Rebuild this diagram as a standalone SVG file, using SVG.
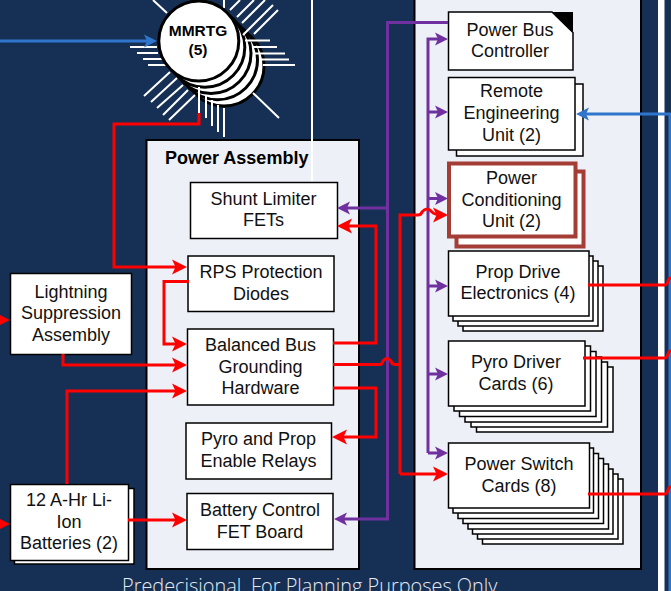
<svg xmlns="http://www.w3.org/2000/svg" width="671" height="591" viewBox="0 0 671 591">
<defs>
<marker id="ar" markerUnits="userSpaceOnUse" markerWidth="16" markerHeight="16" refX="11" refY="8" orient="auto"><path d="M0 0.500L15 8L0 15.500L3.500 8Z" fill="#f00"/></marker>
<marker id="ap" markerUnits="userSpaceOnUse" markerWidth="14" markerHeight="14" refX="9" refY="7" orient="auto"><path d="M0 0.500L13 7L0 13.500L3 7Z" fill="#7030a0"/></marker>
<marker id="ab" markerUnits="userSpaceOnUse" markerWidth="14" markerHeight="14" refX="9" refY="7" orient="auto"><path d="M0 0.500L13 7L0 13.500L3 7Z" fill="#2f75cc"/></marker>
</defs>
<style>
.b{fill:#fff;stroke:#000;stroke-width:1.5}
.p{fill:#edf0f6;stroke:#000;stroke-width:2}
.t{font-family:"Liberation Sans",Arial,sans-serif;font-size:18px;fill:#111;text-anchor:middle}
.h{font-family:"Liberation Sans",Arial,sans-serif;font-weight:bold;fill:#000}
.r{fill:none;stroke:#f00;stroke-width:3}
.v{fill:none;stroke:#7030a0;stroke-width:3}
.u{fill:none;stroke:#2f75cc;stroke-width:3}
.w{fill:none;stroke:#fff;stroke-width:2}
.c{fill:#fff;stroke:#000;stroke-width:3}
.m{fill:#fff;stroke:#a33d35;stroke-width:4}
</style>
<rect width="671" height="591" fill="#163055"/>
<rect x="658" y="0" width="6.500" height="591" fill="#fff"/>
<rect id="power-assembly-panel" class="p" x="146.500" y="140" width="212.500" height="429"/>
<rect id="right-panel" class="p" x="414.500" y="-5" width="226.500" height="574"/>
<text class="h" x="165" y="163.500" font-size="18">Power Assembly</text>
<g id="mmrtg">
<circle class="c" cx="224" cy="66" r="40"/><circle class="c" cx="217.500" cy="59.700" r="40"/><circle class="c" cx="211" cy="53.500" r="40"/><circle class="c" cx="204.800" cy="47.200" r="40"/>
<path class="w" d="M245 40.500H270M252 47H277M253 53.500H285M260 59.500H289M263 65H295M130 47H157M137 53H158M143 59H162M148 65H167M199 87V113M206 95V118M212 100V126M218 105V132M224 108V137M224 0V8M230 10L240 0M237 17L254 0M242 23L265 0M243 35L273 5M254 34L278 10M170 72L144 96M177 78L151 102M183 85L157 108M188 90L163 115M195 95L169 120M167 13L153 0M253 93L279 118"/>
<circle class="c" cx="198.800" cy="41" r="40"/>
<text class="h" x="198" y="36" font-size="15.500" text-anchor="middle">MMRTG</text>
<text class="h" x="198" y="55" font-size="15.500" text-anchor="middle">(5)</text>
</g>
<path class="w" d="M312 0V182"/>
<g id="shunt"><rect class="b" x="190.500" y="182.500" width="147" height="56"/><text class="t" x="263.500" y="205">Shunt Limiter</text><text class="t" x="263.500" y="226">FETs</text></g>
<g id="rps"><rect class="b" x="188" y="256" width="146" height="55.500"/><text class="t" x="261" y="278">RPS Protection</text><text class="t" x="261" y="300">Diodes</text></g>
<g id="balanced"><rect class="b" x="187.500" y="329" width="146" height="76"/><text class="t" x="260.500" y="351">Balanced Bus</text><text class="t" x="260.500" y="372.500">Grounding</text><text class="t" x="260.500" y="394">Hardware</text></g>
<g id="relays"><rect class="b" x="186" y="423" width="145.500" height="56"/><text class="t" x="258.500" y="445">Pyro and Prop</text><text class="t" x="258.500" y="467">Enable Relays</text></g>
<g id="battery-control"><rect class="b" x="187" y="493.500" width="146" height="56"/><text class="t" x="260" y="516">Battery Control</text><text class="t" x="260" y="538">FET Board</text></g>
<g id="lightning"><rect class="b" x="10.500" y="273.500" width="121" height="81"/><text class="t" x="71" y="298">Lightning</text><text class="t" x="71" y="319">Suppression</text><text class="t" x="71" y="341">Assembly</text></g>
<g id="batteries"><rect class="b" x="14.500" y="488.500" width="119.500" height="75.500"/><rect class="b" x="10.500" y="484.500" width="118" height="76"/><text class="t" x="69" y="506">12 A-Hr Li-</text><text class="t" x="69" y="528">Ion</text><text class="t" x="69" y="549">Batteries (2)</text></g>
<g id="power-bus-controller"><path class="b" d="M448.500 12H552L573 32.500V70H448.500Z"/><path d="M552 12H573V32.500Z" fill="#000"/><text class="t" x="510" y="36">Power Bus</text><text class="t" x="510" y="57">Controller</text></g>
<g id="remote"><rect class="b" x="456.500" y="84" width="126.500" height="72"/><rect class="b" x="448.500" y="77.500" width="126.500" height="72.500"/><text class="t" x="511.500" y="97">Remote</text><text class="t" x="511.500" y="119">Engineering</text><text class="t" x="511.500" y="141">Unit (2)</text></g>
<g id="pcu"><rect class="m" x="456.500" y="171.500" width="127" height="75"/><rect class="m" x="449" y="163.500" width="126.500" height="73"/><text class="t" x="511.500" y="184">Power</text><text class="t" x="511.500" y="206">Conditioning</text><text class="t" x="511.500" y="227">Unit (2)</text></g>
<g id="prop-drive">
<rect class="b" x="463" y="266" width="140" height="65"/><rect class="b" x="458" y="261" width="140" height="65"/><rect class="b" x="453" y="256" width="140" height="65"/><rect class="b" x="448.500" y="251" width="140.500" height="65"/>
<text class="t" x="518" y="278">Prop Drive</text><text class="t" x="518" y="299">Electronics (4)</text></g>
<g id="pyro-driver">
<rect class="b" x="476.500" y="367" width="136.500" height="65"/><rect class="b" x="471" y="362" width="136.500" height="65"/><rect class="b" x="465" y="357" width="136.500" height="65"/><rect class="b" x="459.500" y="351.500" width="136.500" height="65"/><rect class="b" x="454" y="346" width="136.500" height="65"/><rect class="b" x="448.500" y="341" width="136.500" height="65"/>
<text class="t" x="516" y="368">Pyro Driver</text><text class="t" x="516" y="390">Cards (6)</text></g>
<g id="power-switch">
<rect class="b" x="482.500" y="479" width="140.500" height="65"/><rect class="b" x="477.500" y="474" width="140.500" height="65"/><rect class="b" x="472.500" y="469" width="140.500" height="65"/><rect class="b" x="468" y="464" width="140.500" height="65"/><rect class="b" x="463" y="458.500" width="140.500" height="65"/><rect class="b" x="458" y="453.500" width="140.500" height="65"/><rect class="b" x="453" y="448" width="140.500" height="65"/><rect class="b" x="448.500" y="443" width="141" height="65"/>
<text class="t" x="519" y="470">Power Switch</text><text class="t" x="519" y="492">Cards (8)</text></g>
<g id="connectors">
<path class="u" d="M0 41H153" marker-end="url(#ab)"/>
<path class="u" d="M671 114H580" marker-end="url(#ab)"/>
<path class="u" d="M670 114V591"/>
<path class="r" d="M199 113V124H114V267H183" marker-end="url(#ar)"/>
<path class="v" d="M448 22.500H387.500V519H338" marker-end="url(#ap)"/>
<path class="v" d="M387.500 208H341" marker-end="url(#ap)"/>
<path class="v" d="M428 453V39H444" marker-end="url(#ap)"/>
<path class="v" d="M428 453H444" marker-end="url(#ap)"/>
<path class="v" d="M428 112H444" marker-end="url(#ap)"/>
<path class="v" d="M428 198.500H444" marker-end="url(#ap)"/>
<path class="v" d="M428 286H444" marker-end="url(#ap)"/>
<path class="v" d="M428 374H444" marker-end="url(#ap)"/>
<path class="r" d="M333 343H376V226H341" marker-end="url(#ar)"/>
<path class="r" d="M189 281.500H164V344H183" marker-end="url(#ar)"/>
<path class="r" d="M63 354V365H183" marker-end="url(#ar)"/>
<path class="r" d="M67 484V391H183" marker-end="url(#ar)"/>
<path class="r" d="M128 520H183" marker-end="url(#ar)"/>
<path class="r" d="M333 388H376V437H336" marker-end="url(#ar)"/>
<path class="r" d="M333 364.500H380Q382 364.500 383 361Q387 356 391 361Q392 364.500 395 364.500H400"/>
<path class="r" d="M400 474V215H418Q421 215 422 212Q427 206 432 212Q434 215 444 215" marker-end="url(#ar)"/>
<path class="r" d="M400 474H444" marker-end="url(#ar)"/>
<path class="r" d="M0 320H6" marker-end="url(#ar)"/>
<path class="r" d="M0 524H6" marker-end="url(#ar)"/>
<path class="r" d="M588 285H665Q667 285 668 281Q669 278 671 278"/>
<path class="r" d="M583 358H665Q667 358 668 354Q669 351 671 351"/>
<path class="r" d="M588 494H665Q667 494 668 490Q669 487 671 487"/>
</g>
<text x="122" y="592.500" font-family="Open Sans,sans-serif" font-weight="300" font-size="19.900" fill="#e4e9f3">Predecisional. For Planning Purposes Only</text>
</svg>
